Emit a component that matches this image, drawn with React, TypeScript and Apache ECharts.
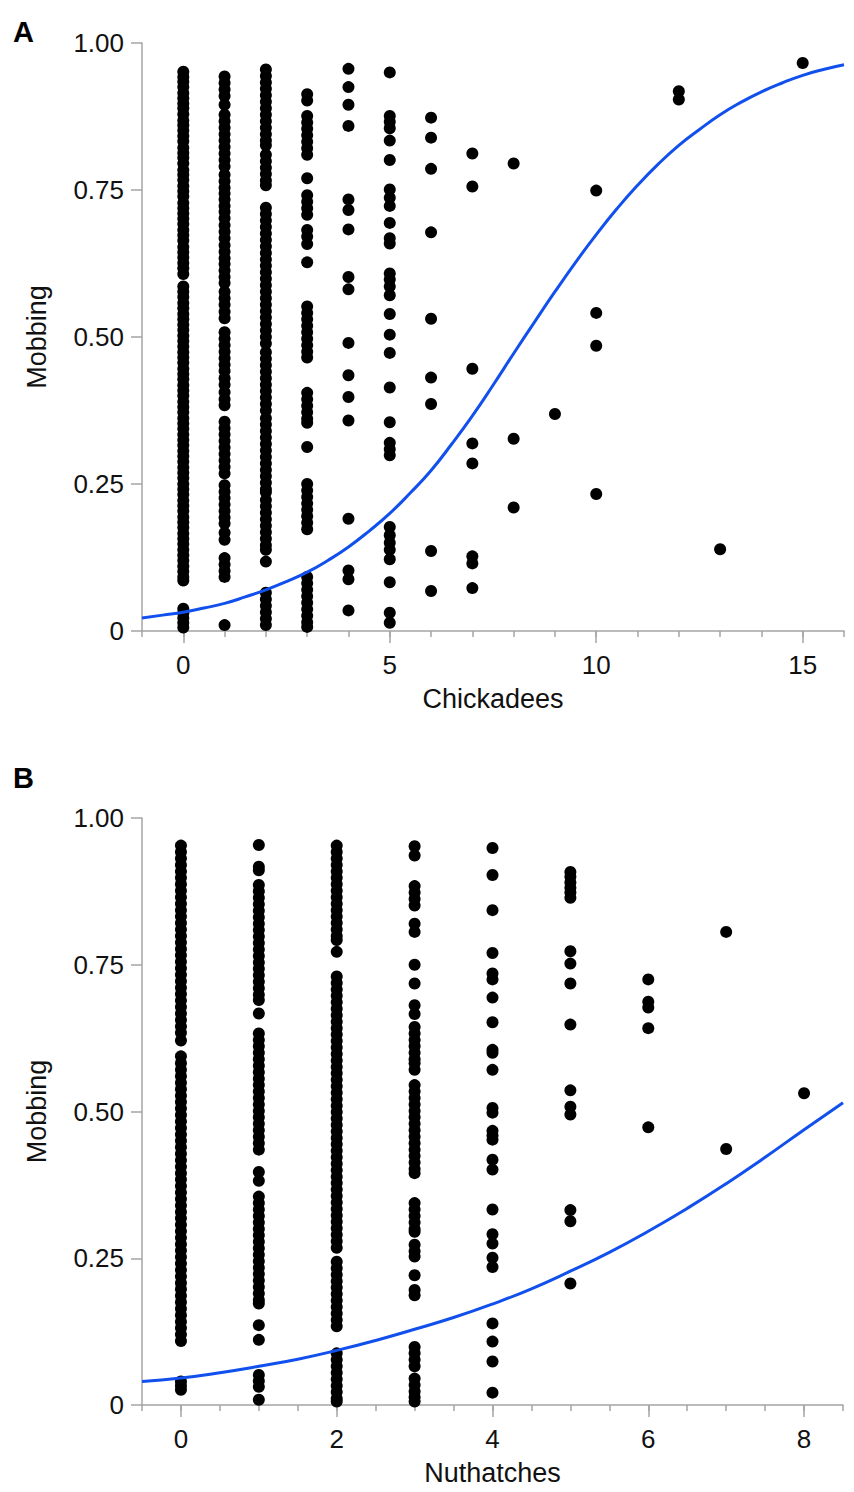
import React, { useEffect, useRef } from "react";
import * as echarts from "echarts";

// ---------- Panel A: Chickadees ----------
const chickA0 = [0.951, 0.942, 0.934, 0.925, 0.915, 0.906, 0.897, 0.889, 0.879, 0.868, 0.86, 0.851, 0.842, 0.833, 0.822, 0.813, 0.805, 0.795, 0.784, 0.776, 0.767, 0.757, 0.748, 0.739, 0.728, 0.719, 0.71, 0.701, 0.692, 0.682, 0.673, 0.664, 0.653, 0.644, 0.635, 0.626, 0.617, 0.607, 0.586, 0.577, 0.568, 0.558, 0.549, 0.539, 0.53, 0.521, 0.512, 0.502, 0.493, 0.484, 0.474, 0.465, 0.456, 0.446, 0.437, 0.428, 0.418, 0.409, 0.4, 0.39, 0.381, 0.372, 0.362, 0.353, 0.344, 0.334, 0.325, 0.316, 0.306, 0.297, 0.288, 0.278, 0.269, 0.26, 0.25, 0.241, 0.232, 0.222, 0.213, 0.204, 0.194, 0.185, 0.176, 0.166, 0.157, 0.148, 0.138, 0.129, 0.12, 0.11, 0.101, 0.092, 0.086, 0.038, 0.03, 0.022, 0.014, 0.006];
const chickA1 = [0.943, 0.932, 0.921, 0.91, 0.895, 0.878, 0.867, 0.856, 0.845, 0.834, 0.823, 0.812, 0.801, 0.79, 0.776, 0.765, 0.754, 0.744, 0.734, 0.723, 0.713, 0.702, 0.69, 0.679, 0.668, 0.656, 0.645, 0.634, 0.624, 0.613, 0.602, 0.592, 0.577, 0.566, 0.555, 0.543, 0.532, 0.508, 0.497, 0.486, 0.475, 0.464, 0.453, 0.442, 0.43, 0.419, 0.406, 0.394, 0.384, 0.356, 0.345, 0.334, 0.323, 0.312, 0.301, 0.29, 0.279, 0.268, 0.248, 0.237, 0.226, 0.215, 0.204, 0.193, 0.183, 0.167, 0.155, 0.124, 0.113, 0.102, 0.092, 0.01];
const chickA2 = [0.955, 0.944, 0.933, 0.922, 0.911, 0.9, 0.889, 0.878, 0.867, 0.856, 0.845, 0.834, 0.826, 0.81, 0.799, 0.788, 0.777, 0.766, 0.758, 0.72, 0.709, 0.698, 0.687, 0.676, 0.665, 0.654, 0.643, 0.632, 0.621, 0.61, 0.599, 0.588, 0.577, 0.566, 0.555, 0.544, 0.533, 0.522, 0.511, 0.5, 0.489, 0.474, 0.463, 0.452, 0.441, 0.43, 0.419, 0.408, 0.397, 0.386, 0.375, 0.362, 0.351, 0.34, 0.329, 0.318, 0.307, 0.296, 0.285, 0.274, 0.263, 0.252, 0.241, 0.236, 0.223, 0.212, 0.201, 0.19, 0.179, 0.168, 0.157, 0.146, 0.138, 0.118, 0.065, 0.054, 0.043, 0.032, 0.021, 0.01];
const chickA3 = [0.913, 0.902, 0.876, 0.865, 0.854, 0.843, 0.832, 0.821, 0.81, 0.77, 0.741, 0.73, 0.719, 0.708, 0.682, 0.671, 0.658, 0.627, 0.552, 0.541, 0.53, 0.519, 0.508, 0.497, 0.486, 0.475, 0.465, 0.405, 0.394, 0.383, 0.372, 0.361, 0.354, 0.313, 0.25, 0.239, 0.228, 0.217, 0.206, 0.195, 0.184, 0.173, 0.092, 0.081, 0.07, 0.059, 0.048, 0.037, 0.026, 0.015, 0.007];
const chickA4 = [0.956, 0.925, 0.895, 0.859, 0.734, 0.716, 0.683, 0.602, 0.581, 0.49, 0.435, 0.398, 0.358, 0.191, 0.103, 0.088, 0.035];
const chickA5 = [0.95, 0.876, 0.866, 0.855, 0.834, 0.801, 0.751, 0.737, 0.723, 0.694, 0.668, 0.659, 0.608, 0.598, 0.586, 0.571, 0.539, 0.504, 0.473, 0.414, 0.355, 0.32, 0.309, 0.299, 0.177, 0.163, 0.15, 0.138, 0.122, 0.083, 0.031, 0.014];
const chickA6 = [0.873, 0.839, 0.786, 0.678, 0.531, 0.431, 0.386, 0.136, 0.068];
const chickA7 = [0.812, 0.756, 0.446, 0.319, 0.285, 0.127, 0.115, 0.073];
const chickA8 = [0.795, 0.327, 0.21];
const chickA9 = [0.369];
const chickA10 = [0.749, 0.541, 0.485, 0.233];
const chickA12 = [0.918, 0.904];
const chickA13 = [0.139];
const chickA15 = [0.966];

// fitted curve, every half unit
const chickFitX = [-1, -0.5, 0, 0.5, 1, 1.5, 2, 2.5, 3, 3.5, 4, 4.5, 5, 5.5, 6, 6.5, 7, 7.5, 8, 8.5, 9, 9.5, 10, 10.5, 11, 11.5, 12, 12.5, 13, 13.5, 14, 14.5, 15, 15.5, 16];
const chickFitY = [0.022, 0.027, 0.032, 0.039, 0.047, 0.058, 0.07, 0.084, 0.1, 0.12, 0.143, 0.17, 0.2, 0.235, 0.273, 0.318, 0.366, 0.418, 0.472, 0.525, 0.577, 0.627, 0.674, 0.718, 0.758, 0.794, 0.826, 0.853, 0.878, 0.899, 0.917, 0.932, 0.945, 0.955, 0.963];

const chickMajorTicks = [0, 5, 10, 15];
const chickMinorTicks = [-1, 0, 1, 2, 3, 4, 5, 6, 7, 8, 9, 10, 11, 12, 13, 14, 15, 16];

// ---------- Panel B: Nuthatches ----------
const nutB0 = [0.953, 0.942, 0.931, 0.92, 0.909, 0.898, 0.887, 0.876, 0.865, 0.854, 0.843, 0.832, 0.821, 0.81, 0.799, 0.788, 0.777, 0.766, 0.755, 0.744, 0.733, 0.722, 0.711, 0.7, 0.689, 0.678, 0.667, 0.656, 0.645, 0.634, 0.621, 0.594, 0.582, 0.571, 0.56, 0.549, 0.538, 0.527, 0.516, 0.505, 0.494, 0.483, 0.472, 0.461, 0.45, 0.439, 0.428, 0.417, 0.406, 0.395, 0.384, 0.373, 0.362, 0.351, 0.34, 0.329, 0.318, 0.307, 0.296, 0.285, 0.274, 0.263, 0.252, 0.241, 0.23, 0.219, 0.208, 0.197, 0.186, 0.175, 0.164, 0.153, 0.142, 0.131, 0.12, 0.109, 0.04, 0.033, 0.026];
const nutB1 = [0.954, 0.917, 0.911, 0.886, 0.875, 0.864, 0.853, 0.842, 0.831, 0.82, 0.809, 0.798, 0.787, 0.776, 0.765, 0.754, 0.743, 0.732, 0.721, 0.71, 0.699, 0.69, 0.667, 0.633, 0.622, 0.611, 0.6, 0.589, 0.578, 0.567, 0.556, 0.545, 0.534, 0.523, 0.512, 0.501, 0.49, 0.479, 0.468, 0.457, 0.446, 0.435, 0.397, 0.382, 0.355, 0.344, 0.333, 0.322, 0.311, 0.3, 0.289, 0.278, 0.267, 0.256, 0.245, 0.234, 0.223, 0.212, 0.201, 0.19, 0.179, 0.173, 0.136, 0.111, 0.051, 0.041, 0.031, 0.009];
const nutB2 = [0.953, 0.942, 0.931, 0.92, 0.909, 0.898, 0.887, 0.876, 0.865, 0.854, 0.843, 0.832, 0.821, 0.81, 0.799, 0.792, 0.772, 0.73, 0.719, 0.708, 0.697, 0.686, 0.675, 0.664, 0.653, 0.642, 0.631, 0.62, 0.609, 0.598, 0.587, 0.576, 0.565, 0.554, 0.543, 0.532, 0.521, 0.51, 0.499, 0.488, 0.477, 0.466, 0.455, 0.444, 0.433, 0.422, 0.411, 0.4, 0.389, 0.378, 0.367, 0.356, 0.345, 0.334, 0.323, 0.312, 0.301, 0.29, 0.279, 0.268, 0.244, 0.233, 0.222, 0.211, 0.2, 0.189, 0.178, 0.167, 0.156, 0.145, 0.134, 0.088, 0.077, 0.066, 0.055, 0.044, 0.033, 0.022, 0.011, 0.006];
const nutB3 = [0.952, 0.936, 0.884, 0.873, 0.862, 0.851, 0.82, 0.806, 0.75, 0.718, 0.681, 0.666, 0.644, 0.633, 0.622, 0.611, 0.6, 0.589, 0.582, 0.571, 0.545, 0.534, 0.523, 0.512, 0.501, 0.49, 0.479, 0.468, 0.457, 0.446, 0.435, 0.424, 0.413, 0.402, 0.395, 0.344, 0.333, 0.322, 0.311, 0.3, 0.295, 0.273, 0.262, 0.253, 0.221, 0.196, 0.187, 0.099, 0.088, 0.077, 0.066, 0.045, 0.034, 0.023, 0.013, 0.006];
const nutB4 = [0.949, 0.903, 0.843, 0.77, 0.735, 0.725, 0.694, 0.652, 0.605, 0.6, 0.571, 0.506, 0.498, 0.467, 0.459, 0.452, 0.418, 0.401, 0.333, 0.291, 0.275, 0.251, 0.235, 0.139, 0.108, 0.074, 0.021];
const nutB5 = [0.908, 0.9, 0.89, 0.881, 0.873, 0.864, 0.773, 0.752, 0.718, 0.648, 0.536, 0.508, 0.495, 0.332, 0.313, 0.207];
const nutB6 = [0.725, 0.687, 0.677, 0.642, 0.473];
const nutB7 = [0.806, 0.436];
const nutB8 = [0.531];

const nutFitX = [-0.5, 0, 0.5, 1, 1.5, 2, 2.5, 3, 3.5, 4, 4.5, 5, 5.5, 6, 6.5, 7, 7.5, 8, 8.5];
const nutFitY = [0.04, 0.046, 0.055, 0.066, 0.078, 0.093, 0.11, 0.129, 0.149, 0.172, 0.198, 0.228, 0.26, 0.296, 0.335, 0.377, 0.422, 0.469, 0.515];

const nutMajorTicks = [0, 2, 4, 6, 8];
const nutMinorTicks = [-0.5, 0, 0.5, 1, 1.5, 2, 2.5, 3, 3.5, 4, 4.5, 5, 5.5, 6, 6.5, 7, 7.5, 8, 8.5];

const chickCols: [number, number[]][] = [
  [0, chickA0], [1, chickA1], [2, chickA2], [3, chickA3], [4, chickA4], [5, chickA5],
  [6, chickA6], [7, chickA7], [8, chickA8], [9, chickA9], [10, chickA10], [12, chickA12],
  [13, chickA13], [15, chickA15],
];
const nutCols: [number, number[]][] = [
  [0, nutB0], [1, nutB1], [2, nutB2], [3, nutB3], [4, nutB4], [5, nutB5],
  [6, nutB6], [7, nutB7], [8, nutB8],
];

function toPoints(cols: [number, number[]][]) {
  const out: number[][] = [];
  cols.forEach(([x, ys]) => ys.forEach((y) => out.push([x, y])));
  return out;
}
function zipXY(xs: number[], ys: number[]) {
  return xs.map((x, i) => [x, ys[i]]);
}

const FONT = "'Liberation Sans', Arial, Helvetica, sans-serif";
const AXIS_GRAY = "#a4a4a4";
const TEXT = "#111111";
const BLUE = "#1150ec";

function makeX(gridIndex: number, min: number, max: number, major: number[], name: string) {
  return {
    gridIndex,
    type: "value",
    min,
    max,
    position: "bottom",
    axisLine: { show: true, onZero: false, lineStyle: { color: AXIS_GRAY, width: 1.5 } },
    axisTick: { show: true, length: 12, customValues: major, lineStyle: { color: AXIS_GRAY, width: 1.5 } },
    axisLabel: { show: true, customValues: major, fontSize: 26, color: TEXT, fontFamily: FONT, margin: 21 },
    splitLine: { show: false },
    name,
    nameLocation: "middle",
    nameGap: 54,
    nameTextStyle: { fontSize: 27, color: TEXT, fontFamily: FONT },
  };
}
function makeMinorX(gridIndex: number, min: number, max: number, minor: number[]) {
  return {
    gridIndex,
    type: "value",
    min,
    max,
    position: "bottom",
    axisLine: { show: false, onZero: false },
    axisTick: { show: true, length: 6, customValues: minor, lineStyle: { color: AXIS_GRAY, width: 1.5 } },
    axisLabel: { show: false },
    splitLine: { show: false },
  };
}
function makeY(gridIndex: number) {
  return {
    gridIndex,
    type: "value",
    min: 0,
    max: 1,
    interval: 0.25,
    axisLine: { show: true, onZero: false, lineStyle: { color: AXIS_GRAY, width: 1.5 } },
    axisTick: { show: true, length: 11, lineStyle: { color: AXIS_GRAY, width: 1.5 } },
    axisLabel: {
      show: true,
      fontSize: 26,
      color: TEXT,
      fontFamily: FONT,
      margin: 18,
      formatter: (v: number) => (v === 0 ? "0" : v.toFixed(2)),
    },
    splitLine: { show: false },
    name: "Mobbing",
    nameLocation: "middle",
    nameGap: 92,
    nameRotate: 90,
    nameTextStyle: { fontSize: 27, color: TEXT, fontFamily: FONT },
  };
}

export default function App() {
  const ref = useRef<HTMLDivElement>(null);
  useEffect(() => {
    if (!ref.current) return;
    const chart = echarts.init(ref.current, undefined, { renderer: "svg" });
    const option = {
      animation: false,
      backgroundColor: "#ffffff",
      grid: [
        { left: 142, top: 43, width: 702, height: 588 },
        { left: 142, top: 818, width: 701, height: 587 },
      ],
      xAxis: [
        makeX(0, -1, 16, chickMajorTicks, "Chickadees"),
        makeMinorX(0, -1, 16, chickMinorTicks),
        makeX(1, -0.5, 8.5, nutMajorTicks, "Nuthatches"),
        makeMinorX(1, -0.5, 8.5, nutMinorTicks),
      ],
      yAxis: [makeY(0), makeY(1)],
      graphic: [
        { type: "text", left: 13, top: 17, style: { text: "A", font: `bold 29px ${FONT}`, fill: "#000" } },
        { type: "text", left: 13, top: 763, style: { text: "B", font: `bold 29px ${FONT}`, fill: "#000" } },
      ],
      series: [
        {
          type: "scatter",
          xAxisIndex: 0,
          yAxisIndex: 0,
          data: toPoints(chickCols),
          symbolSize: 12,
          itemStyle: { color: "#000000", opacity: 1 },
          z: 2,
        },
        {
          type: "line",
          xAxisIndex: 0,
          yAxisIndex: 0,
          data: zipXY(chickFitX, chickFitY),
          smooth: true,
          showSymbol: false,
          lineStyle: { color: BLUE, width: 3 },
          z: 3,
        },
        {
          type: "scatter",
          xAxisIndex: 2,
          yAxisIndex: 1,
          data: toPoints(nutCols),
          symbolSize: 12,
          itemStyle: { color: "#000000", opacity: 1 },
          z: 2,
        },
        {
          type: "line",
          xAxisIndex: 2,
          yAxisIndex: 1,
          data: zipXY(nutFitX, nutFitY),
          smooth: true,
          showSymbol: false,
          lineStyle: { color: BLUE, width: 3 },
          z: 3,
        },
      ],
    };
    chart.setOption(option as any);
    return () => chart.dispose();
  }, []);
  return (
    <div
      ref={ref}
      style={{ position: "absolute", left: 0, top: 0, width: 854, height: 1492, background: "#fff" }}
    />
  );
}
